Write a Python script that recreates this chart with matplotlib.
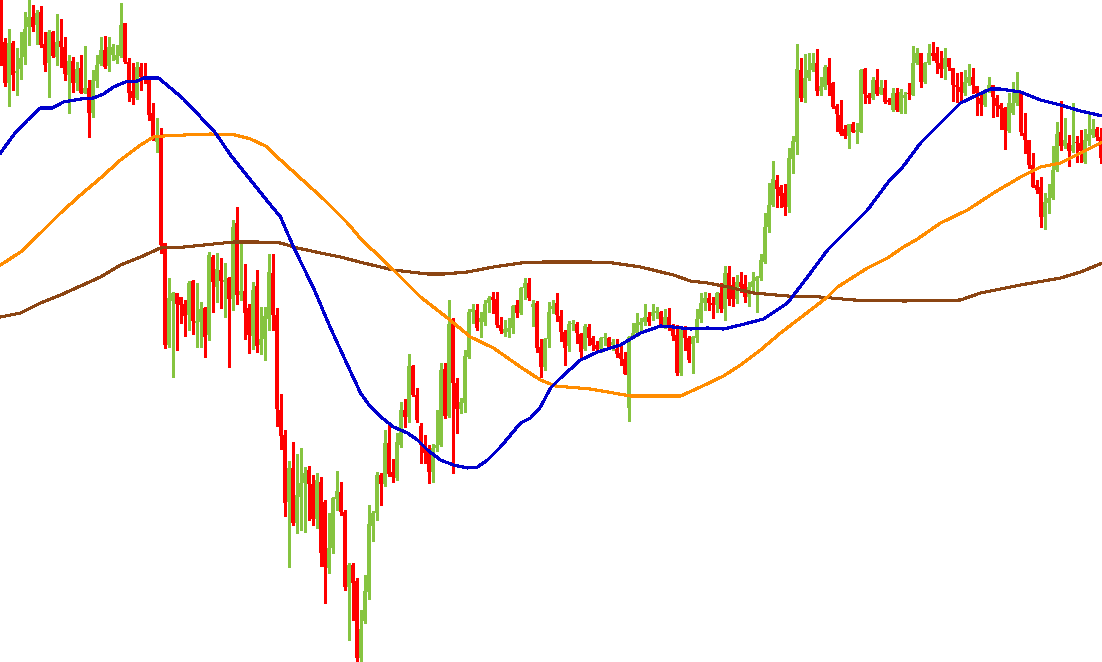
import matplotlib
matplotlib.use("Agg")
import matplotlib.pyplot as plt
import numpy as np

# Candle data (price axis expressed in chart pixel units, higher value = lower on chart)
opens = [35,42,83,43,73,69,57,27,17,25,12,44,63,32,57,41,47,75,61,83,
         68,93,88,113,81,64,50,66,55,60,56,23,62,91,98,67,77,80,113,142,
         138,243,345,301,293,297,304,315,281,323,322,308,335,257,287,270,282,278,299,223,
         295,291,308,336,286,345,339,319,273,315,410,435,502,468,523,497,483,470,484,519,
         482,502,568,548,499,492,512,587,565,581,658,621,592,526,513,475,484,443,472,478,
         445,410,417,366,395,426,445,452,472,448,445,369,416,319,383,409,403,357,312,310,
         322,322,303,297,299,325,333,332,328,305,313,288,283,307,303,347,367,339,309,303,
         316,332,346,324,324,334,349,327,338,345,349,338,338,345,349,353,359,408,337,333,
         325,322,317,316,313,312,325,317,328,335,373,329,338,344,338,319,303,298,303,305,
         293,309,273,285,299,282,284,297,287,281,278,262,227,205,180,187,193,207,159,142,
         70,98,78,70,63,91,87,67,83,106,115,129,136,124,132,132,69,95,98,80,
         94,88,100,110,93,112,98,93,95,63,53,82,63,53,53,63,69,58,68,85,
         87,93,83,77,86,98,105,91,85,98,105,108,131,113,103,92,133,140,165,185,
         187,217,203,198,170,132,146,143,151,142,143,162,141,135,129,137]
highs = [0,38,29,41,48,32,12,0,5,10,6,32,30,31,14,19,37,55,57,62,
         55,46,80,70,55,37,36,37,44,45,3,23,58,63,62,63,63,79,103,118,
         128,243,278,292,293,297,300,281,280,283,302,307,252,255,253,258,263,277,220,207,
         243,264,304,282,270,307,307,254,254,308,394,430,461,442,454,448,467,466,475,473,
         477,500,513,497,471,482,510,563,563,578,610,575,505,511,472,473,430,425,459,433,
         402,399,354,365,388,423,435,445,444,410,363,363,300,318,378,398,350,309,304,304,
         312,300,296,292,292,317,320,318,305,300,287,278,278,300,301,339,338,302,300,293,
         310,330,321,320,322,333,324,324,336,341,337,333,337,339,339,345,352,336,323,313,
         318,304,312,304,307,311,309,308,324,325,326,326,336,336,309,293,292,293,297,292,
         283,266,266,277,275,272,275,282,272,276,254,213,183,161,175,185,184,148,136,44,
         58,54,53,53,49,77,65,58,82,104,100,125,124,122,123,69,68,93,77,69,
         80,80,98,88,88,89,92,83,46,48,53,62,44,42,47,51,48,58,68,73,
         72,70,64,68,86,93,89,77,85,95,103,107,93,82,72,92,113,140,153,180,
         177,193,184,146,122,101,118,135,103,136,130,129,113,119,127,128]
lows = [65,86,106,90,95,79,64,45,31,44,47,71,97,57,65,67,80,113,92,90,
        93,93,137,117,87,65,68,71,60,63,57,63,101,104,99,90,83,120,140,152,
        253,348,347,377,350,323,336,330,334,347,347,357,340,312,302,308,317,367,310,304,
        300,339,353,349,352,354,360,330,330,426,449,516,567,525,533,530,532,520,525,528,
        566,603,573,553,510,515,590,640,620,662,662,623,599,541,520,505,486,476,482,480,
        447,427,422,396,422,463,463,483,482,451,446,418,417,473,433,413,412,358,323,330,
        337,325,312,313,327,333,336,337,333,317,314,299,300,326,352,377,370,347,313,321,
        341,365,351,330,343,360,350,345,350,352,352,345,348,350,357,365,374,421,338,336,
        330,325,325,320,318,327,328,330,340,375,375,350,362,373,342,322,310,310,318,312,
        312,320,305,306,303,292,302,306,290,312,280,263,232,206,207,207,215,212,173,154,
        101,102,80,71,95,95,89,95,108,131,135,138,148,132,143,132,103,103,99,95,
        94,103,104,111,111,113,113,99,95,64,87,83,64,60,73,77,79,70,101,102,
        102,95,85,93,115,115,106,92,117,116,129,149,132,114,105,135,153,168,187,193,
        227,229,213,199,171,150,148,166,152,162,162,163,145,137,140,163]
closes = [65,83,43,75,71,58,29,17,27,13,45,65,32,56,42,47,74,61,83,69,
          93,88,113,80,65,50,67,47,47,55,25,62,93,98,67,77,80,115,138,137,
          245,345,298,293,304,305,316,283,321,321,309,337,255,282,269,281,280,299,227,295,
          291,313,335,290,346,339,316,272,315,409,436,503,468,523,495,483,473,484,519,480,
          553,567,548,498,491,512,587,565,583,658,629,591,524,513,475,484,443,474,477,442,
          410,417,366,395,420,445,453,472,448,445,370,416,324,383,409,402,356,312,309,328,
          318,304,298,300,325,331,329,328,306,313,288,283,298,304,348,367,339,312,306,315,
          332,348,324,323,333,352,326,338,345,349,338,337,347,342,354,359,374,337,333,323,
          322,317,322,312,311,325,317,325,336,373,329,338,360,337,319,303,298,303,305,293,
          309,273,299,299,282,287,297,287,281,277,260,227,205,179,189,196,207,158,141,69,
          98,78,70,63,91,86,67,85,107,114,134,136,124,132,130,70,94,98,80,94,
          87,102,102,93,110,92,95,94,63,53,82,63,53,56,63,69,58,67,85,87,
          92,82,77,85,93,104,90,85,97,106,109,130,103,103,92,132,140,165,187,190,
          217,202,198,170,134,146,140,151,145,143,151,140,134,129,137,158]

# Moving averages sampled along the bar index
blue_x = [0,3.25,6.75,10,13,15.75,20,23.25,25.75,28.25,31.25,34.25,35.75,39.5,42.5,45.75,
          50,53.75,57.5,62.5,66.5,70,73.25,78.25,82.5,86.75,90,92.5,95.75,98.25,101.75,
          104.25,106.75,110,113.25,116.75,119.25,121.75,125,130,132.5,135,137.5,140,145,
          149.25,155,160,165,168.25,172.5,176.75,180.75,185,190.75,196.75,201.75,206.75,
          212.5,216.75,221.75,225.75,230,235,240,244.25,247.5,250,255,260,265,270,275.5]
blue_y = [153,135,120,108,108,102,99,98,94,87,82,81,78,78,88,99,
          117,133,155,180,200,217,247,288,328,365,393,407,419,427,433,
          440,450,460,465,468,467,460,447,423,418,407,388,378,360,
          352,345,333,326,327,329,328,329,325,319,303,277,250,
          227,210,183,166,143,123,103,95,89,89,92,100,105,111,116]
orange_x = [0,5,10,15,20,25,30,35,38.25,40.75,46,52.5,58.75,62.5,66.25,70,75.5,80.75,
            86.75,90.75,93,98.25,105,111.75,117.5,123.25,130,135,138.75,147.5,153.25,
            157.5,164.25,170,175,180.75,185,190,195,199.25,206.75,209.25,216.75,221.75,
            225.75,229.25,235,241.75,248.25,255,260,265,270,275.5]
orange_y = [265,252,233,213,195,178,160,145,137,136,135,134,135,139,146,160,180,199,
            223,242,250,270,297,318,337,348,367,380,386,389,393,
            396,396,396,387,376,365,350,333,320,297,287,268,258,
            247,239,223,210,193,177,167,163,153,142]
brown_x = [0,5,10,15,20,25,30,35,40,46,53.25,58.25,64.25,70,74.25,80,85,90.75,98.25,
           106.75,110.75,116.75,123.25,130,135.75,147.5,153.25,160,168.25,172.5,176.75,
           180.75,188.25,196.75,205,213.25,226,240,245,255,265,270,275.5]
brown_y = [317,313,303,295,286,277,265,257,248,247,244,242,242,243,248,253,257,263,270,
           274,274,272,267,263,262,262,263,267,275,281,283,
           286,293,296,297,300,301,300,293,285,278,272,263]

UP = "#86C440"
DOWN = "#FF0000"

fig = plt.figure(figsize=(11.02, 6.62), dpi=100)
ax = fig.add_axes([0, 0, 1, 1])
ax.set_facecolor("white")

o = np.array(opens, float)
h = np.array(highs, float)
l = np.array(lows, float)
c = np.array(closes, float)
idx = np.arange(len(o))
up = c <= o  # smaller pixel value = higher price
cols = np.where(up, UP, DOWN)

ax.vlines(idx, h, l, colors=cols, linewidth=1.0, antialiased=False, zorder=2)
bottom = np.minimum(o, c)
height = np.maximum(np.abs(c - o), 1.0)
ax.bar(idx, height, bottom=bottom, width=0.78, color=cols, linewidth=0,
       antialiased=False, zorder=3)

ax.plot(brown_x, brown_y, color="#8B4513", linewidth=1.5, zorder=4, antialiased=False)
ax.plot(orange_x, orange_y, color="#FF8C00", linewidth=1.5, zorder=4, antialiased=False)
ax.plot(blue_x, blue_y, color="#0000CD", linewidth=1.5, zorder=5, antialiased=False)

ax.set_xlim(-0.125, 275.375)
ax.set_ylim(662, 0)
ax.axis("off")

fig.savefig("out.png", dpi=100, facecolor="white")
